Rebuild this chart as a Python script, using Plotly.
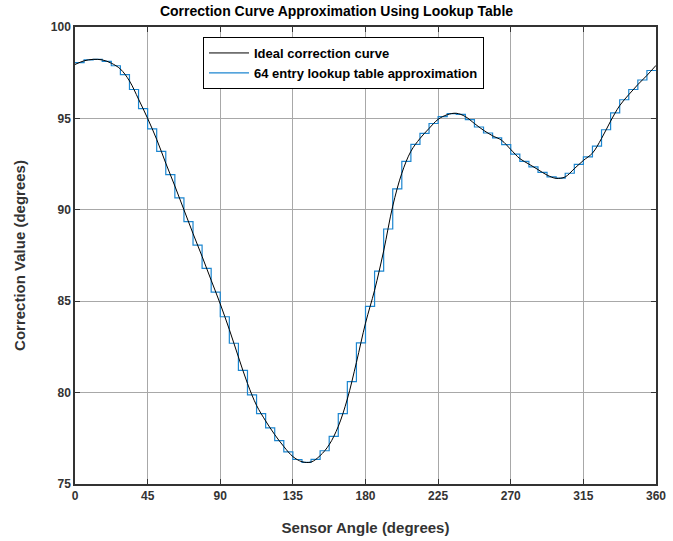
import plotly.graph_objects as go

# Ideal correction curve, read at every 5.625 degrees (0..360)
ideal_angles = [i * 5.625 for i in range(65)]
ideal_values = [
    97.95, 98.15, 98.23, 98.20, 98.02, 97.70, 97.05, 96.05, 95.00, 93.85,
    92.55, 91.30, 90.00, 88.70, 87.45, 86.15, 84.85, 83.45, 81.95, 80.50,
    79.30, 78.45, 77.70, 77.05, 76.50, 76.22, 76.20, 76.55, 77.15, 78.15,
    79.65, 81.65, 83.80, 85.60, 87.75, 90.20, 92.00, 93.20, 93.90, 94.45,
    94.95, 95.20, 95.28, 95.10, 94.72, 94.35, 94.05, 93.80, 93.30, 92.80,
    92.50, 92.20, 91.90, 91.72, 91.80, 92.25, 92.70, 93.10, 93.90, 94.85,
    95.70, 96.30, 96.85, 97.35, 97.90,
]

# 64 entry lookup table levels (one per 5.625 degree bin)
table_edges = [i * 360 / 64 for i in range(65)]
table_values = [
    98.05, 98.20, 98.23, 98.12, 97.88, 97.40, 96.58, 95.53, 94.43, 93.20,
    91.92, 90.65, 89.35, 88.07, 86.80, 85.50, 84.15, 82.70, 81.22, 79.88,
    78.85, 78.07, 77.37, 76.76, 76.34, 76.18, 76.35, 76.82, 77.60, 78.85,
    80.60, 82.72, 84.72, 86.65, 88.95, 91.15, 92.65, 93.58, 94.18, 94.72,
    95.10, 95.26, 95.22, 94.93, 94.53, 94.20, 93.93, 93.56, 93.05, 92.65,
    92.35, 92.05, 91.80, 91.73, 92.00, 92.48, 92.90, 93.48, 94.38, 95.30,
    96.02, 96.58, 97.10, 97.62,
]

x_ticks = [0, 45, 90, 135, 180, 225, 270, 315, 360]
y_ticks = [75, 80, 85, 90, 95, 100]

FONT = "Arial, Liberation Sans, Helvetica, sans-serif"

fig = go.Figure()
fig.add_trace(go.Scatter(
    x=table_edges, y=table_values + [table_values[-1]],
    mode="lines", line=dict(color="#1c86d0", width=1.2, shape="hv"),
    name="64 entry lookup table approximation", legendrank=2,
))
fig.add_trace(go.Scatter(
    x=ideal_angles, y=ideal_values,
    mode="lines", line=dict(color="black", width=1, shape="spline", smoothing=1),
    name="Ideal correction curve", legendrank=1,
))

axis_common = dict(
    showgrid=True, gridcolor="#a8a8a8", gridwidth=1,
    showline=True, linecolor="#333333", linewidth=1.5, mirror="allticks",
    ticks="inside", ticklen=5, tickcolor="#333333",
    tickfont=dict(family=FONT, size=12, color="#333333", weight="bold"),
    zeroline=False, automargin=False,
)

fig.update_layout(
    width=673, height=541,
    margin=dict(l=75, r=17, t=27, b=57),
    paper_bgcolor="white", plot_bgcolor="white",
    title=dict(text="Correction Curve Approximation Using Lookup Table",
               x=0.5, xref="container", xanchor="center",
               y=1 - 11 / 541, yref="container", yanchor="middle",
               font=dict(family=FONT, size=14, color="black", weight="bold")),
    xaxis=dict(range=[0, 360], tickvals=x_ticks,
               title=dict(text="Sensor Angle (degrees)", standoff=20,
                          font=dict(family=FONT, size=15, color="#333333", weight="bold")),
               **axis_common),
    yaxis=dict(range=[75, 100], tickvals=y_ticks,
               title=dict(text="Correction Value (degrees)", standoff=22,
                          font=dict(family=FONT, size=15, color="#333333", weight="bold")),
               **axis_common),
    legend=dict(x=(203 - 75) / 581, y=(484 - 37) / 457, xanchor="left", yanchor="top",
                bgcolor="white", bordercolor="black", borderwidth=1,
                font=dict(family=FONT, size=13, color="black", weight="bold"),
                itemwidth=40, tracegroupgap=0),
    showlegend=True,
)

fig.write_html("out.html")
